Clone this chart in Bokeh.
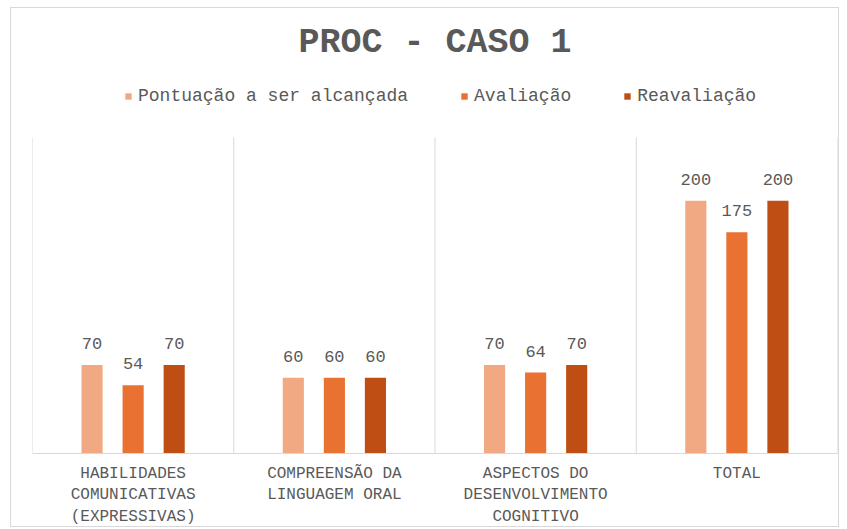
from bokeh.plotting import figure
from bokeh.models import (ColumnDataSource, FactorRange, Range1d, LabelSet, Label,
                          Legend, LegendItem)
from bokeh.core.properties import value
from bokeh.transform import dodge
from bokeh.embed import file_html
from bokeh.resources import INLINE

categories = ["HABILIDADES\nCOMUNICATIVAS\n(EXPRESSIVAS)",
              "COMPREENSÃO DA\nLINGUAGEM ORAL",
              "ASPECTOS DO\nDESENVOLVIMENTO\nCOGNITIVO",
              "TOTAL"]
pontuacao = [70, 60, 70, 200]
avaliacao = [54, 60, 64, 175]
reavaliacao = [70, 60, 70, 200]
series_names = ["Pontuação a ser alcançada", "Avaliação", "Reavaliação"]
title_text = "PROC - CASO 1"
axis_max = 250  # value axis maximum (hidden axis); grid separators end here

colors = ["#F1A983", "#E97132", "#BF4E14"]
FONT = "Liberation Mono"
GRAY = "#595959"

src = ColumnDataSource(data=dict(
    cat=categories,
    p=pontuacao, a=avaliacao, r=reavaliacao,
    pl=[str(v) for v in pontuacao],
    al=[str(v) for v in avaliacao],
    rl=[str(v) for v in reavaliacao],
))

# frame extends up to the top of the chart so title & legend can sit inside it
p = figure(x_range=FactorRange(factors=categories, range_padding=0),
           y_range=Range1d(0, 352),
           width=829, height=520, output_backend="svg", toolbar_location=None,
           min_border_left=21, min_border_right=3, min_border_top=0,
           min_border_bottom=71)
p.styles = {"border": "1px solid #d9d9d9", "margin-left": "10px", "margin-top": "7px"}
p.outline_line_color = None
p.background_fill_color = "white"
p.border_fill_color = "white"
p.yaxis.visible = False
p.ygrid.grid_line_color = None
p.xgrid.grid_line_color = None

# category separators
bounds = list(range(len(categories) + 1))
p.segment(x0=bounds, y0=[0] * len(bounds), x1=bounds, y1=[axis_max] * len(bounds),
          line_color="#d9d9d9", line_width=1)

offsets = [-0.204, 0.0, 0.204]
cols = ["p", "a", "r"]
lcols = ["pl", "al", "rl"]
renderers = []
for off, c, lc, col in zip(offsets, cols, lcols, colors):
    r = p.vbar(x=dodge("cat", off, range=p.x_range), top=c, width=0.105,
               source=src, fill_color=col, line_color=None)
    renderers.append(r)
    p.add_layout(LabelSet(x=dodge("cat", off, range=p.x_range), y=c, text=lc,
                          source=src, text_align="center", text_baseline="bottom",
                          y_offset=16, text_font=value(FONT), text_font_size=value("17px"),
                          text_color=value(GRAY)))

ax = p.xaxis[0]
ax.axis_line_color = "#d9d9d9"
ax.major_tick_line_color = None
ax.minor_tick_line_color = None
ax.major_label_text_font = FONT
ax.major_label_text_font_size = "16px"
ax.major_label_text_color = GRAY
ax.major_label_standoff = 5
ax.major_label_orientation = "horizontal"

p.add_layout(Label(x=2.0, y=325, text=title_text, text_align="center",
                   text_baseline="middle", text_font=FONT, text_font_size="35px",
                   text_font_style="bold", text_color=GRAY))

legend = Legend(items=[LegendItem(label=n, renderers=[r]) for n, r in zip(series_names, renderers)],
                orientation="horizontal", location=(92, 347),
                glyph_width=8, glyph_height=8, label_standoff=6, spacing=52,
                padding=0, margin=0, border_line_color=None,
                background_fill_alpha=0, label_text_font=FONT,
                label_text_font_size="18px", label_text_color=GRAY)
p.add_layout(legend, "center")

open("out.html", "w").write(file_html(p, INLINE))
